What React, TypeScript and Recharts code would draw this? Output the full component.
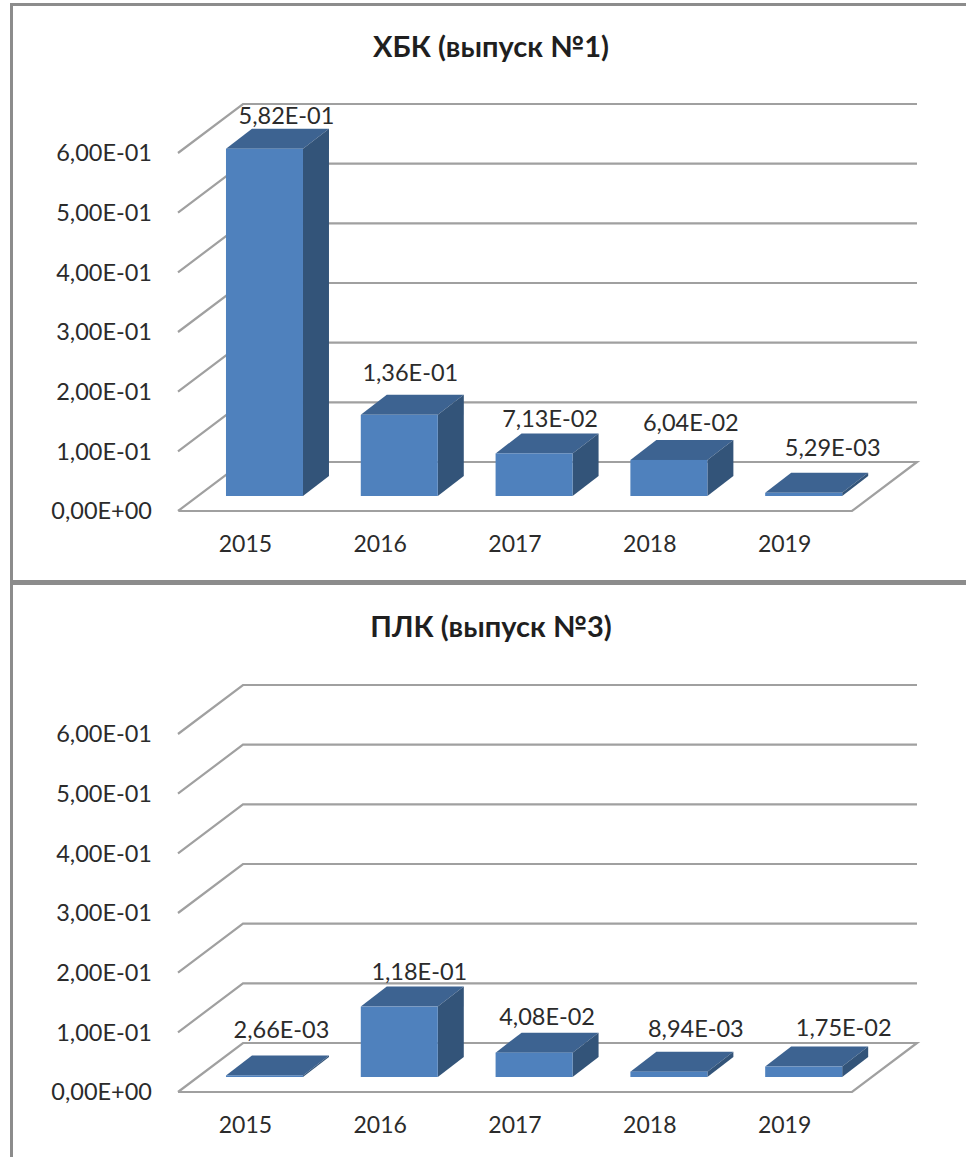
import React from 'react'
import { BarChart, Bar, XAxis, YAxis, CartesianGrid, LabelList } from 'recharts'

const years = ['2015', '2016', '2017', '2018', '2019']
const hbkValues = [0.582, 0.136, 0.0713, 0.0604, 0.00529]
const plkValues = [0.00266, 0.118, 0.0408, 0.00894, 0.0175]
const valueTicks = [0, 0.1, 0.2, 0.3, 0.4, 0.5, 0.6]

// the labels were dragged by hand in the original, so each one has its own nudge
const hbkLabelNudge = [[41, -34], [30, -43], [35, -35], [41, -38], [48, -46]]
const plkLabelNudge = [[36, -46], [39, -36], [32, -37], [46, -44], [59, -40]]

const FONT = 'Lato, "Open Sans", sans-serif'
const TEXT = '#2b2b2b'
const WALL_DX = 65
const WALL_DY = -49
const BAR_DX = 19
const BAR_DY = -15
const DEPTH_X = 26
const DEPTH_Y = -20
const PLOT_BOTTOM = 511

const fmt = (v: number) => {
  const [m, e] = v.toExponential(2).split('e')
  const exp = Math.abs(Number(e)).toString().padStart(2, '0')
  return `${m.replace('.', ',')}E${Number(e) < 0 ? '-' : '+'}${exp}`
}

function WallLine(props: any) {
  const { x1, x2, y1 } = props
  const points =
    Math.abs(y1 - PLOT_BOTTOM) < 1
      ? `${x1},${y1} ${x1 + WALL_DX},${y1 + WALL_DY} ${x2 + WALL_DX},${y1 + WALL_DY} ${x2},${y1} ${x1},${y1}`
      : `${x1},${y1} ${x1 + WALL_DX},${y1 + WALL_DY} ${x2 + WALL_DX},${y1 + WALL_DY}`
  return <polyline key={props.key} points={points} fill="none" stroke="#a0a0a0" strokeWidth={2.2} />
}

function Box3D(props: any) {
  const { width, height } = props
  const x = props.x + BAR_DX
  const y = props.y + BAR_DY
  const r = x + width
  const b = y + height
  return (
    <g>
      <polygon
        points={`${x},${y} ${x + DEPTH_X},${y + DEPTH_Y} ${r + DEPTH_X},${y + DEPTH_Y} ${r},${y}`}
        fill="#3d6391"
      />
      <polygon
        points={`${r},${y} ${r + DEPTH_X},${y + DEPTH_Y} ${r + DEPTH_X},${b + DEPTH_Y} ${r},${b}`}
        fill="#335479"
      />
      <rect x={x} y={y} width={width} height={height} fill="#4f81bd" />
    </g>
  )
}

function Panel({ title, values, nudge, top, titleTop }: any) {
  const data = years.map((year, i) => ({ year, value: values[i] }))
  return (
    <div style={{ position: 'absolute', left: 0, top, width: 966, height: 581 }}>
      <div
        style={{
          position: 'absolute',
          left: 0,
          width: 982,
          top: titleTop,
          textAlign: 'center',
          fontFamily: FONT,
          fontWeight: 700,
          fontSize: 29,
          lineHeight: '30px',
          color: '#1f1f1f'
        }}
      >
        {title}
      </div>
      <BarChart
        width={966}
        height={581}
        data={data}
        margin={{ top: 153, right: 114, bottom: 0, left: 0 }}
        barCategoryGap="21.5%"
        style={{ position: 'absolute', left: 0, top: 0 }}
      >
        <CartesianGrid horizontal={(p: any) => <WallLine {...p} />} vertical={false} />
        <XAxis
          dataKey="year"
          height={70}
          axisLine={false}
          tickLine={false}
          tickSize={0}
          tickMargin={25}
          interval={0}
          tick={{ fill: TEXT, fontSize: 23, fontFamily: FONT }}
        />
        <YAxis
          width={178}
          domain={[0, 0.6]}
          ticks={valueTicks}
          axisLine={false}
          tickLine={false}
          tickSize={0}
          tickMargin={26}
          tickFormatter={fmt}
          tick={{ fill: TEXT, fontSize: 23.5, fontFamily: FONT }}
        />
        <Bar dataKey="value" shape={<Box3D />} isAnimationActive={false}>
          <LabelList
            dataKey="value"
            content={(p: any) => (
              <text
                x={p.x + p.width / 2 + nudge[p.index][0]}
                y={p.y + BAR_DY + nudge[p.index][1]}
                textAnchor="middle"
                dominantBaseline="central"
                fill={TEXT}
                fontSize={23.5}
                fontFamily={FONT}
              >
                {fmt(p.value)}
              </text>
            )}
          />
        </Bar>
      </BarChart>
    </div>
  )
}

export default function App() {
  return (
    <div style={{ position: 'absolute', left: 0, top: 0, width: 966, height: 1157, overflow: 'hidden', background: '#fff' }}>
      <Panel title="ХБК (выпуск №1)" values={hbkValues} nudge={hbkLabelNudge} top={0} titleTop={31} />
      <Panel title="ПЛК (выпуск №3)" values={plkValues} nudge={plkLabelNudge} top={581} titleTop={30} />
      <div style={{ position: 'absolute', left: 10, top: 3, width: 956, height: 3, background: '#8c8c8c' }} />
      <div style={{ position: 'absolute', left: 10, top: 3, width: 3, height: 1154, background: '#8c8c8c' }} />
      <div style={{ position: 'absolute', left: 10, top: 580, width: 956, height: 5, background: '#8c8c8c' }} />
    </div>
  )
}
